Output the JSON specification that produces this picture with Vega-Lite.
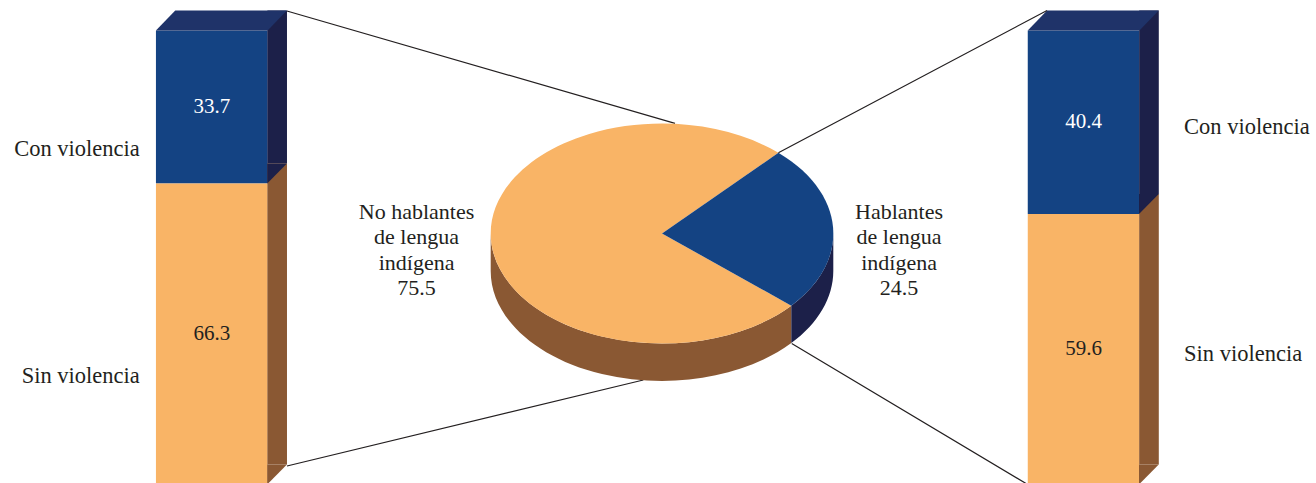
{
  "$schema": "https://vega.github.io/schema/vega-lite/v6.json",
  "width": 1316,
  "height": 483,
  "padding": 0,
  "autosize": {"type": "none"},
  "background": "white",
  "config": {
    "view": {"stroke": null},
    "legend": {"disable": true},
    "axis": {"disable": true},
    "text": {"font": "Liberation Serif"}
  },
  "datasets": {
    "barras": [
      {"grupo": "No hablantes de lengua indígena", "violencia": "Con violencia", "pct": 33.7},
      {"grupo": "No hablantes de lengua indígena", "violencia": "Sin violencia", "pct": 66.3},
      {"grupo": "Hablantes de lengua indígena", "violencia": "Con violencia", "pct": 40.4},
      {"grupo": "Hablantes de lengua indígena", "violencia": "Sin violencia", "pct": 59.6}
    ],
    "pastel": [
      {"grupo": "No hablantes de lengua indígena", "etiqueta": "No hablantes\nde lengua\nindígena", "pct": 75.5},
      {"grupo": "Hablantes de lengua indígena", "etiqueta": "Hablantes\nde lengua\nindígena", "pct": 24.5}
    ]
  },
  "resolve": {"scale": {"color": "independent", "shape": "independent"}},
  "layer": [
    {
      "data": {"name": "barras"},
      "transform": [
        {"stack": "pct", "groupby": ["grupo"], "sort": [{"field": "violencia", "order": "descending"}], "as": ["y0", "y1"]},
        {"calculate": "(datum.y0 + datum.y1) / 2", "as": "mid"}
      ],
      "resolve": {"scale": {"color": "independent", "shape": "independent"}},
      "layer": [
        {
          "mark": {"type": "bar"},
          "encoding": {
            "x": {"field": "grupo", "type": "nominal", "axis": null,
              "scale": {"type": "band", "domain": ["No hablantes de lengua indígena", "Hablantes de lengua indígena"], "paddingInner": 0.8719, "paddingOuter": 0.1907, "align": 0.469}},
            "y": {"field": "y1", "type": "quantitative", "axis": null, "scale": {"domain": [0.33, 106.72], "nice": false, "zero": false}},
            "y2": {"field": "y0"},
            "color": {"field": "violencia", "type": "nominal", "scale": {"domain": ["Con violencia", "Sin violencia"], "range": ["#144383", "#F9B466"]}}
          }
        },
        {
          "mark": {"type": "rule", "strokeWidth": 19.6, "strokeCap": "butt", "xOffset": 65.4, "yOffset": -20, "y2Offset": -20},
          "encoding": {
            "x": {"field": "grupo", "type": "nominal", "axis": null},
            "y": {"field": "y1", "type": "quantitative", "axis": null},
            "y2": {"field": "y0"},
            "color": {"field": "violencia", "type": "nominal", "scale": {"domain": ["Con violencia", "Sin violencia"], "range": ["#1C2049", "#8A5833"]}}
          }
        },
        {
          "mark": {"type": "point", "filled": true, "opacity": 1, "size": 4, "strokeWidth": 0, "shape": "M55.4,-20L75.15,-20L55.4,0Z"},
          "encoding": {
            "x": {"field": "grupo", "type": "nominal", "axis": null},
            "y": {"field": "y0", "type": "quantitative", "axis": null},
            "color": {"field": "violencia", "type": "nominal", "scale": {"domain": ["Con violencia", "Sin violencia"], "range": ["#1C2049", "#8A5833"]}}
          }
        },
        {
          "transform": [{"filter": {"field": "violencia", "equal": "Con violencia"}}],
          "mark": {"type": "point", "filled": true, "opacity": 1, "size": 4, "strokeWidth": 0, "color": "#1F3369", "shape": "M-55.85,0L55.85,0L75.15,-20L-36.55,-20Z"},
          "encoding": {
            "x": {"field": "grupo", "type": "nominal", "axis": null},
            "y": {"field": "y1", "type": "quantitative", "axis": null}
          }
        },
        {
          "mark": {"type": "text", "fontSize": 21, "baseline": "middle"},
          "encoding": {
            "x": {"field": "grupo", "type": "nominal", "axis": null},
            "y": {"field": "mid", "type": "quantitative", "axis": null},
            "text": {"field": "pct", "type": "quantitative", "format": ".1f"},
            "color": {"field": "violencia", "type": "nominal", "scale": {"domain": ["Con violencia", "Sin violencia"], "range": ["#FFFFFF", "#231F20"]}}
          }
        },
        {
          "transform": [{"filter": {"field": "grupo", "equal": "No hablantes de lengua indígena"}}],
          "mark": {"type": "text", "fontSize": 22.5, "baseline": "middle", "align": "right", "dx": -72, "dy": 41.5, "color": "#231F20"},
          "encoding": {
            "x": {"field": "grupo", "type": "nominal", "axis": null},
            "y": {"field": "mid", "type": "quantitative", "axis": null},
            "text": {"field": "violencia", "type": "nominal"}
          }
        },
        {
          "transform": [{"filter": {"field": "grupo", "equal": "Hablantes de lengua indígena"}}],
          "mark": {"type": "text", "fontSize": 22.5, "baseline": "middle", "align": "left", "dx": 100.5, "dy": 4.5, "color": "#231F20"},
          "encoding": {
            "x": {"field": "grupo", "type": "nominal", "axis": null},
            "y": {"field": "mid", "type": "quantitative", "axis": null},
            "text": {"field": "violencia", "type": "nominal"}
          }
        }
      ]
    },
    {
      "data": {"name": "pastel"},
      "resolve": {"scale": {"color": "independent", "shape": "independent"}},
      "layer": [
        {
          "mark": {"type": "point", "filled": false, "opacity": 1, "size": 4, "strokeWidth": 1.2, "color": "#231F20", "xOffset": 4, "yOffset": -8},
          "encoding": {
            "shape": {"field": "grupo", "type": "nominal", "scale": {"domain": ["No hablantes de lengua indígena", "Hablantes de lengua indígena"], "range": ["M-375.1,-222.5L13,-110.2M-375,232.5L-18.7,146.5", "M385,-223L116.4,-80.7M365.7,251L129.7,110"]}}
          }
        },
        {
          "mark": {"type": "point", "filled": true, "opacity": 1, "size": 4, "strokeWidth": 0, "xOffset": 4, "yOffset": -8},
          "encoding": {
            "shape": {"field": "grupo", "type": "nominal", "scale": {"domain": ["No hablantes de lengua indígena", "Hablantes de lengua indígena"], "range": ["M129.3,72.2A171.3,110 0 0,1 -171.3,0L-171.3,37.4A171.3,110 0 0,0 129.3,109.6Z", "M171.3,0A171.3,110 0 0,1 129.3,72.2L129.3,109.6A171.3,110 0 0,0 171.3,37.4Z"]}},
            "color": {"field": "grupo", "type": "nominal", "scale": {"domain": ["No hablantes de lengua indígena", "Hablantes de lengua indígena"], "range": ["#8A5833", "#1C2049"]}}
          }
        },
        {
          "mark": {"type": "point", "filled": true, "opacity": 1, "size": 4, "strokeWidth": 0, "xOffset": 4, "yOffset": -8},
          "encoding": {
            "shape": {"field": "grupo", "type": "nominal", "scale": {"domain": ["No hablantes de lengua indígena", "Hablantes de lengua indígena"], "range": ["M0,0L129.3,72.2A171.3,110 0 1,1 116.4,-80.7Z", "M0,0L116.4,-80.7A171.3,110 0 0,1 129.3,72.2Z"]}},
            "color": {"field": "grupo", "type": "nominal", "scale": {"domain": ["No hablantes de lengua indígena", "Hablantes de lengua indígena"], "range": ["#F9B466", "#144383"]}}
          }
        },
        {
          "transform": [{"filter": {"field": "grupo", "equal": "No hablantes de lengua indígena"}}],
          "mark": {"type": "text", "fontSize": 22, "lineBreak": "\n", "lineHeight": 25.3, "baseline": "middle", "dx": 204.75, "dy": -29.5, "color": "#231F20"},
          "encoding": {
            "x": {"field": "grupo", "type": "nominal", "axis": null},
            "text": {"field": "etiqueta", "type": "nominal"}
          }
        },
        {
          "transform": [{"filter": {"field": "grupo", "equal": "No hablantes de lengua indígena"}}],
          "mark": {"type": "text", "fontSize": 22, "baseline": "middle", "dx": 204.75, "dy": 46.5, "color": "#231F20"},
          "encoding": {
            "x": {"field": "grupo", "type": "nominal", "axis": null},
            "text": {"field": "pct", "type": "quantitative", "format": ".1f"}
          }
        },
        {
          "transform": [{"filter": {"field": "grupo", "equal": "Hablantes de lengua indígena"}}],
          "mark": {"type": "text", "fontSize": 22, "lineBreak": "\n", "lineHeight": 25.3, "baseline": "middle", "dx": -184.55, "dy": -29.5, "color": "#231F20"},
          "encoding": {
            "x": {"field": "grupo", "type": "nominal", "axis": null},
            "text": {"field": "etiqueta", "type": "nominal"}
          }
        },
        {
          "transform": [{"filter": {"field": "grupo", "equal": "Hablantes de lengua indígena"}}],
          "mark": {"type": "text", "fontSize": 22, "baseline": "middle", "dx": -184.55, "dy": 46.5, "color": "#231F20"},
          "encoding": {
            "x": {"field": "grupo", "type": "nominal", "axis": null},
            "text": {"field": "pct", "type": "quantitative", "format": ".1f"}
          }
        }
      ]
    }
  ]
}
